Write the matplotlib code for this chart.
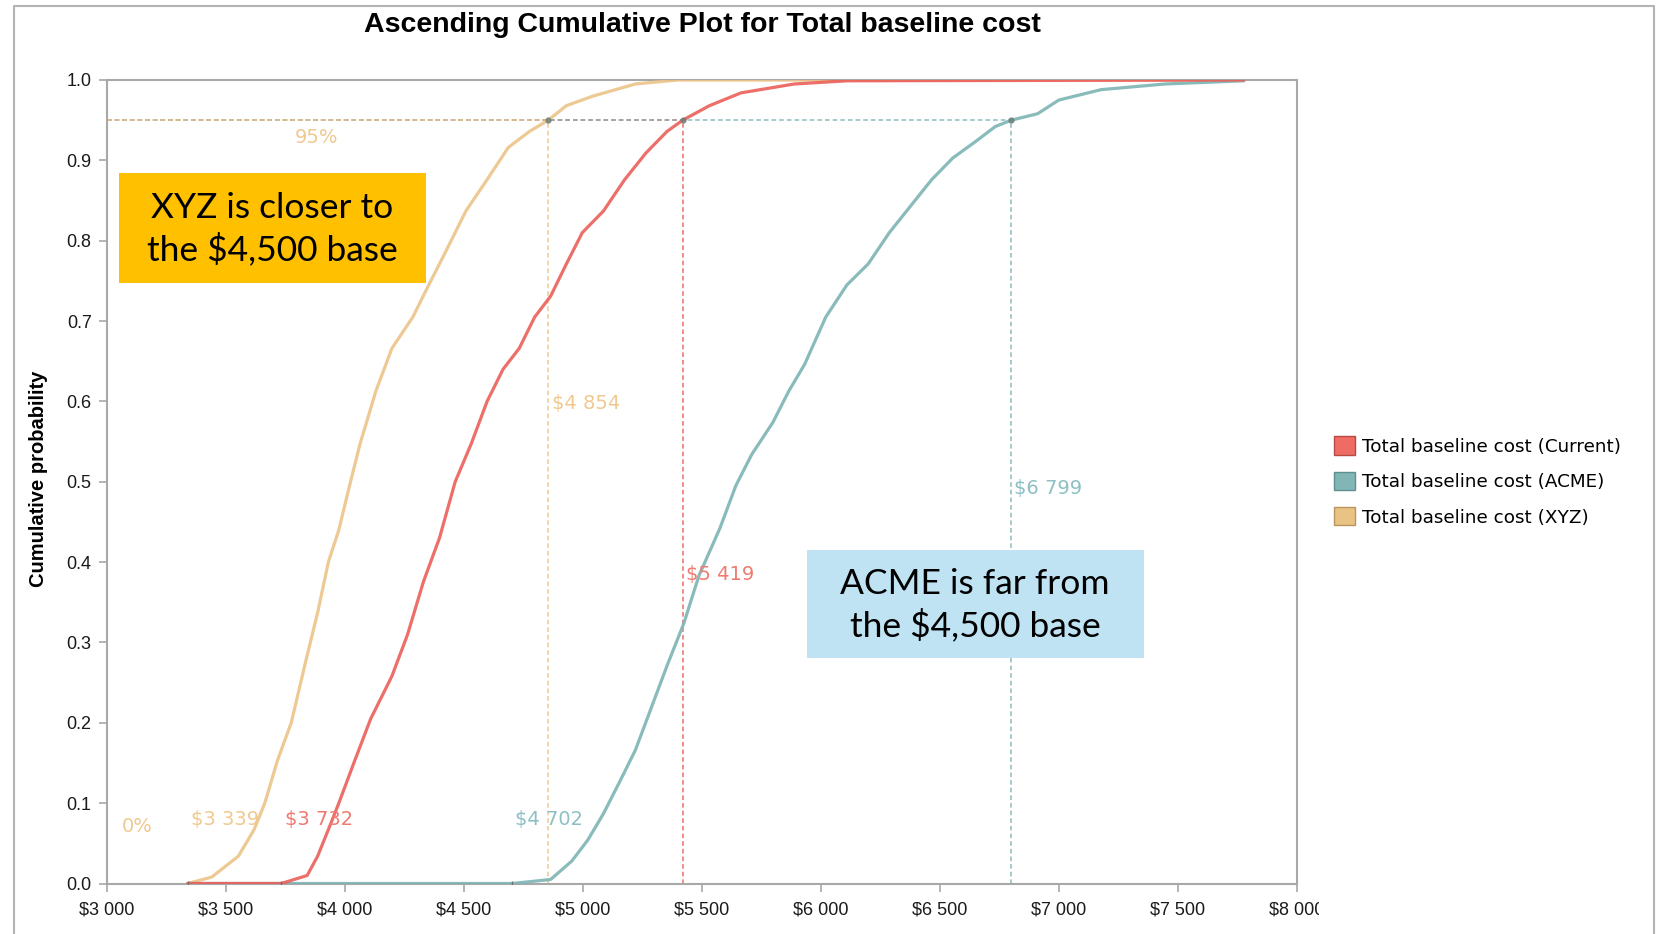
import matplotlib
matplotlib.use("Agg")
import matplotlib.pyplot as plt
from matplotlib.patches import Rectangle, Patch
from matplotlib.transforms import Bbox, TransformedBbox

# cumulative curves (cost, probability)
xyz_cost = [3339, 3440, 3552, 3618, 3663, 3716, 3774, 3841, 3885, 3930, 3974, 4019,
            4063, 4130, 4197, 4285, 4352, 4419, 4508, 4597, 4686, 4775, 4854, 4930,
            5042, 5220, 5398, 7777]
xyz_prob = [0.0, 0.008, 0.034, 0.067, 0.10, 0.153, 0.20, 0.284, 0.337, 0.40, 0.44, 0.495,
            0.547, 0.613, 0.666, 0.705, 0.745, 0.784, 0.837, 0.876, 0.916, 0.936, 0.95, 0.968,
            0.98, 0.995, 1.0, 1.0]

cur_cost = [3339, 3732, 3841, 3885, 3930, 3974, 4041, 4108, 4197, 4263, 4330, 4397, 4463,
            4530, 4597, 4664, 4732, 4797, 4864, 4930, 4997, 5086, 5175, 5264, 5353, 5419,
            5531, 5664, 5887, 6109, 7777]
cur_prob = [0.0, 0.0, 0.01, 0.034, 0.067, 0.10, 0.153, 0.205, 0.258, 0.31, 0.376, 0.43, 0.50,
            0.547, 0.60, 0.64, 0.666, 0.705, 0.731, 0.771, 0.81, 0.837, 0.876, 0.909, 0.936, 0.95,
            0.968, 0.984, 0.995, 0.999, 1.0]

acme_cost = [3339, 4702, 4864, 4953, 5020, 5086, 5153, 5220, 5286, 5353, 5424, 5487, 5575,
             5642, 5709, 5798, 5865, 5931, 6020, 6109, 6198, 6287, 6376, 6465, 6554, 6643,
             6732, 6799, 6910, 6999, 7177, 7444, 7777]
acme_prob = [0.0, 0.0, 0.005, 0.028, 0.054, 0.087, 0.126, 0.166, 0.218, 0.271, 0.324, 0.383, 0.442,
             0.495, 0.534, 0.574, 0.613, 0.646, 0.705, 0.745, 0.771, 0.81, 0.843, 0.876, 0.903, 0.922,
             0.942, 0.95, 0.958, 0.975, 0.988, 0.995, 0.999]

series_names = ["Total baseline cost (Current)", "Total baseline cost (ACME)",
                "Total baseline cost (XYZ)"]
low_values = [3732, 4702, 3339]      # 0% delimiters
high_values = [5419, 6799, 4854]     # 95% delimiters
low_label_y = [0.08, 0.08, 0.08]
high_label_y = [0.385, 0.492, 0.597]

line_colors = ["#EB5F5A", "#7DB4B4", "#EBC387"]
label_colors = ["#EF7A72", "#8CC0C4", "#EFC98F"]
legend_fill = ["#EE6C64", "#82B5B5", "#E9C384"]
legend_edge = ["#B84A44", "#5E8E8E", "#B8955C"]

curves = [(cur_cost, cur_prob), (acme_cost, acme_prob), (xyz_cost, xyz_prob)]

W, H = 1657, 934
fig = plt.figure(figsize=(W / 100, H / 100), dpi=100)
ax = fig.add_axes([107 / W, 1 - 883.5 / H, (1297 - 107) / W, (883.5 - 80) / H])

# screenshot frame
fig.add_artist(plt.Line2D([14 / W, 14 / W, 1654 / W, 1654 / W], [0, 1 - 5.5 / H, 1 - 5.5 / H, 0],
                          transform=fig.transFigure, color="#B4B4B4", lw=1.5))

# 95% delimiter lines
for val, col in zip(high_values, line_colors):
    ax.plot([3000, val], [0.95, 0.95], color=col, lw=1.1, dashes=(3, 2), alpha=0.9, zorder=2)
    ax.plot([val, val], [0, 0.95], color=col, lw=1.1, dashes=(3, 2), alpha=0.9, zorder=2)

# cumulative curves, drawn XYZ, ACME, Current order
for i in [2, 1, 0]:
    c, p = curves[i]
    ax.plot(c, p, color=line_colors[i], lw=2.3, alpha=0.9, zorder=3, solid_capstyle="round")

for val, col in zip(high_values, line_colors):
    ax.plot([val], [0.95], "o", ms=3.5, color="#6E7E7A", alpha=0.8, zorder=4)
for val in low_values:
    ax.plot([val], [0.0], "|", ms=5, color="#707070", zorder=4)

lab_font = dict(family="DejaVu Sans", fontsize=14)
for val, y, col in zip(high_values, high_label_y, label_colors):
    ax.text(val + 14, y, f"${val // 1000} {val % 1000:03d}", color=col, va="center", ha="left", **lab_font)
for val, y, col in zip(low_values, low_label_y, label_colors):
    ax.text(val + 14, y, f"${val // 1000} {val % 1000:03d}", color=col, va="center", ha="left", **lab_font)
ax.text(3882, 0.929, "95%", color=label_colors[2], ha="center", va="center", **lab_font)
ax.text(3125, 0.071, "0%", color=label_colors[2], ha="center", va="center", **lab_font)

ax.set_xlim(3000, 8000)
ax.set_ylim(0, 1.0)
xt = list(range(3000, 8001, 500))
ax.set_xticks(xt)
ax.set_xticklabels([f"${v // 1000} {v % 1000:03d}" for v in xt])
ax.set_yticks([i / 10 for i in range(11)])
ax.set_yticklabels([f"{i / 10:.1f}" for i in range(11)])
for s in ax.spines.values():
    s.set_color("#A8A8A8")
    s.set_linewidth(1.5)
ax.tick_params(axis="both", direction="out", length=6, width=1.2, color="#A8A8A8",
               labelsize=13, pad=5)
for t in ax.get_xticklabels() + ax.get_yticklabels():
    t.set_family("Liberation Sans")
    t.set_color("#1A1A1A")
ax.tick_params(axis="x", pad=7)

# last tick label is cut off in the original
clip = TransformedBbox(Bbox([[0, 0], [1319 / W, 1]]), fig.transFigure)
last = ax.get_xticklabels()[-1]
last.set_clip_on(True)
last.set_clip_box(clip)

fig.text(702 / W, 1 - 25 / H, "Ascending Cumulative Plot for Total baseline cost",
         ha="center", va="center", fontsize=20.5, fontweight="bold",
         family=["Liberation Sans Narrow", "Liberation Sans"])
fig.text(39 / W, 1 - 479 / H, "Cumulative probability", rotation=90, ha="center", va="center",
         fontsize=14.5, fontweight="bold", family=["Liberation Sans Narrow", "Liberation Sans"])

# legend
handles = [Patch(facecolor=f, edgecolor=e, lw=1) for f, e in zip(legend_fill, legend_edge)]
fig.legend(handles, series_names, loc="upper left", bbox_to_anchor=(1327 / W, 1 - 429 / H),
           frameon=False, prop={"family": "DejaVu Sans", "size": 13.2},
           handlelength=1.15, handleheight=1.15, handletextpad=0.35, labelspacing=0.88,
           borderaxespad=0)

# annotation boxes
fig.add_artist(Rectangle((119 / W, 1 - 283 / H), 307 / W, 110 / H, transform=fig.transFigure,
                         facecolor="#FFC000", edgecolor="none", zorder=5))
fig.text(272 / W, 1 - 229 / H, "XYZ is closer to\nthe $4,500 base", ha="center", va="center",
         fontsize=25.5, family="Lato", linespacing=1.3, zorder=6)
fig.add_artist(Rectangle((807 / W, 1 - 658 / H), 337 / W, 108 / H, transform=fig.transFigure,
                         facecolor="#BFE3F3", edgecolor="none", zorder=5))
fig.text(975 / W, 1 - 605 / H, "ACME is far from\nthe $4,500 base", ha="center", va="center",
         fontsize=25.5, family="Lato", linespacing=1.3, zorder=6)

fig.savefig("out.png", dpi=100)
